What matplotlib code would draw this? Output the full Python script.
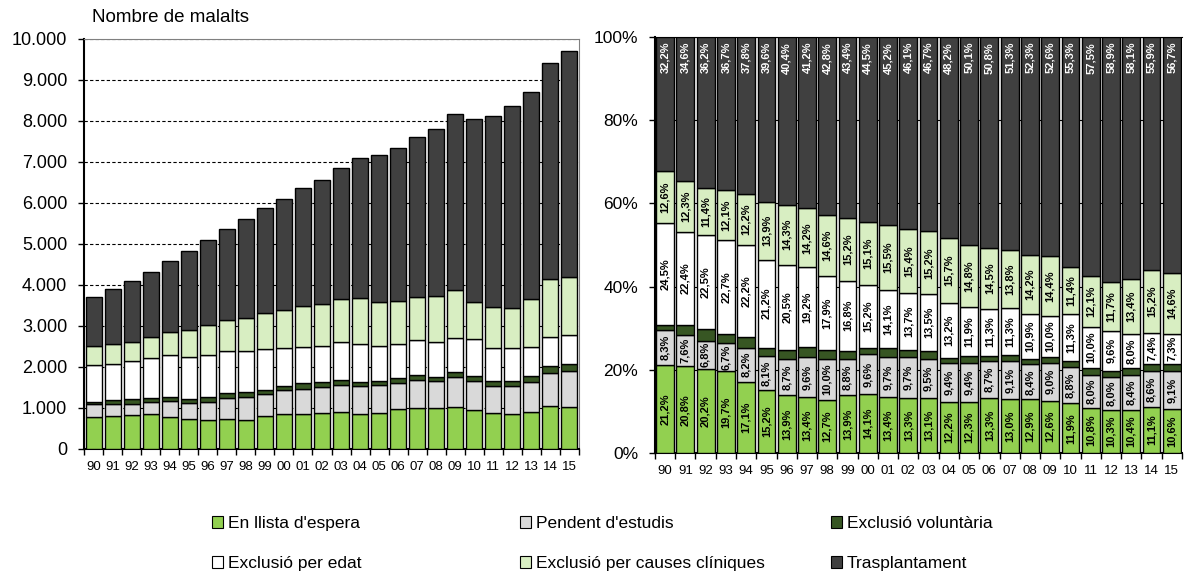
import numpy as np
import matplotlib.pyplot as plt
from matplotlib.patches import Patch
from matplotlib.ticker import FuncFormatter

plt.rcParams['font.family'] = ['Liberation Sans', 'DejaVu Sans']

years = ["90", "91", "92", "93", "94", "95", "96", "97", "98", "99", "00", "01", "02",
         "03", "04", "05", "06", "07", "08", "09", "10", "11", "12", "13", "14", "15"]

# total number of patients per year (left panel)
totals = [3707, 3902, 4098, 4328, 4597, 4824, 5086, 5369, 5606, 5868, 6088, 6357, 6553,
          6861, 7090, 7178, 7350, 7611, 7807, 8166, 8044, 8132, 8362, 8704, 9413, 9714]

# shares per category (%), as labelled in the right panel
llista = [21.2, 20.8, 20.2, 19.7, 17.1, 15.2, 13.9, 13.4, 12.7, 13.9, 14.1, 13.4, 13.3,
          13.1, 12.2, 12.3, 13.3, 13.0, 12.9, 12.6, 11.9, 10.8, 10.3, 10.4, 11.1, 10.6]
pendent = [8.3, 7.6, 6.8, 6.7, 8.2, 8.1, 8.7, 9.6, 10.0, 8.8, 9.6, 9.7, 9.7,
           9.5, 9.4, 9.4, 8.7, 9.1, 8.4, 9.0, 8.8, 8.0, 8.0, 8.4, 8.6, 9.1]
voluntaria = [1.2, 2.3, 2.9, 2.1, 2.5, 2.0, 2.2, 2.4, 2.0, 1.9, 1.5, 2.1, 1.8,
              2.0, 1.3, 1.5, 1.4, 1.5, 1.3, 1.4, 1.3, 1.6, 1.5, 1.7, 1.8, 1.7]
edat = [24.5, 22.4, 22.5, 22.7, 22.2, 21.2, 20.5, 19.2, 17.9, 16.8, 15.2, 14.1, 13.7,
        13.5, 13.2, 11.9, 11.3, 11.3, 10.9, 10.0, 11.3, 10.0, 9.6, 8.0, 7.4, 7.3]
cliniques = [12.6, 12.3, 11.4, 12.1, 12.2, 13.9, 14.3, 14.2, 14.6, 15.2, 15.1, 15.5, 15.4,
             15.2, 15.7, 14.8, 14.5, 13.8, 14.2, 14.4, 11.4, 12.1, 11.7, 13.4, 15.2, 14.6]
trasplant = [32.2, 34.6, 36.2, 36.7, 37.8, 39.6, 40.4, 41.2, 42.8, 43.4, 44.5, 45.2, 46.1,
             46.7, 48.2, 50.1, 50.8, 51.3, 52.3, 52.6, 55.3, 57.5, 58.9, 58.1, 55.9, 56.7]

series = [
    ("En llista d'espera", llista, "#92D050", True),
    ("Pendent d'estudis", pendent, "#D9D9D9", True),
    ("Exclusió voluntària", voluntaria, "#375623", False),
    ("Exclusió per edat", edat, "#FFFFFF", True),
    ("Exclusió per causes clíniques", cliniques, "#D8EEC2", True),
    ("Trasplantament", trasplant, "#404040", True),
]

fig = plt.figure(figsize=(11.85, 5.8), dpi=100)
ax1 = fig.add_axes([0.0709, 0.2259, 0.4177, 0.7069])
ax2 = fig.add_axes([0.5527, 0.2190, 0.4447, 0.7172])

x = np.arange(len(years))
tot = np.array(totals, dtype=float)

# left: absolute numbers
bottom = np.zeros(len(years))
for name, pct, col, _ in series:
    vals = tot * np.array(pct) / 100
    ax1.bar(x, vals, 0.84, bottom=bottom, color=col, edgecolor="black", linewidth=1, zorder=3)
    bottom += vals

ax1.set_ylim(0, 10000)
ax1.set_xlim(-0.5, len(years) - 0.5)
ax1.set_yticks(np.arange(0, 10001, 1000))
ax1.yaxis.set_major_formatter(FuncFormatter(lambda v, p: f"{int(v):,}".replace(",", ".")))
ax1.grid(axis="y", color="black", linestyle=(0, (3, 2)), linewidth=0.8, zorder=0)
for s in ["top", "right"]:
    ax1.spines[s].set_color("#808080")
    ax1.spines[s].set_linewidth(0.8)
ax1.spines["left"].set_linewidth(1.5)
ax1.spines["bottom"].set_linewidth(1.5)
fig.text(92 / 1185, 1 - 18 / 580, "Nombre de malalts", fontsize=13.5, va="center", ha="left")

# right: percentages
bottom = np.zeros(len(years))
for name, pct, col, show in series:
    vals = np.array(pct, dtype=float)
    ax2.bar(x, vals, 0.88, bottom=bottom, color=col, edgecolor="black", linewidth=1, zorder=3)
    if show:
        tcol = "white" if col == "#404040" else "black"
        for i, v in enumerate(vals):
            ypos = bottom[i] + v / 2
            if col == "#404040":
                ypos = 100 - 1.2
                va = "top"
            else:
                va = "center"
            ax2.text(i, ypos, f"{v:.1f}%".replace(".", ","), rotation=90, ha="center",
                     va=va, fontsize=8, fontweight="bold", color=tcol, zorder=4)
    bottom += vals

ax2.set_ylim(0, 100)
ax2.set_xlim(-0.5, len(years) - 0.5)
ax2.set_yticks(np.arange(0, 101, 20))
ax2.yaxis.set_major_formatter(FuncFormatter(lambda v, p: f"{int(v)}%"))
ax2.grid(axis="y", color="black", linewidth=0.8, zorder=0)
ax2.spines["right"].set_visible(False)
ax2.spines["top"].set_linewidth(0.8)
ax2.spines["left"].set_linewidth(1.5)
ax2.spines["bottom"].set_linewidth(1.5)

for ax, ysize in ((ax1, 13), (ax2, 12.5)):
    ax.set_xticks(x)
    ax.set_xticklabels(years, fontsize=9.5)
    ax.set_xticks(np.arange(-0.5, len(years), 1), minor=True)
    ax.tick_params(axis="x", which="major", length=0, pad=9)
    ax.tick_params(axis="x", which="minor", length=4, width=1, direction="out")
    ax.tick_params(axis="y", labelsize=ysize, length=4, width=1, pad=8)

# legend, three columns of two rows
handles = [Patch(facecolor=c, edgecolor="black", linewidth=0.8) for _, _, c, _ in series]
names = [n for n, _, _, _ in series]
cols_x = [212, 520, 831]
for k in range(3):
    idx = [k, k + 3]
    fig.legend([handles[i] for i in idx], [names[i] for i in idx],
               loc="upper left", bbox_to_anchor=(cols_x[k] / 1185, 1 - 516 / 580),
               frameon=False, fontsize=12.5, handlelength=0.65, handleheight=0.65,
               handletextpad=0.25, labelspacing=1.45, borderpad=0, borderaxespad=0)

fig.savefig("out.png", dpi=100)
